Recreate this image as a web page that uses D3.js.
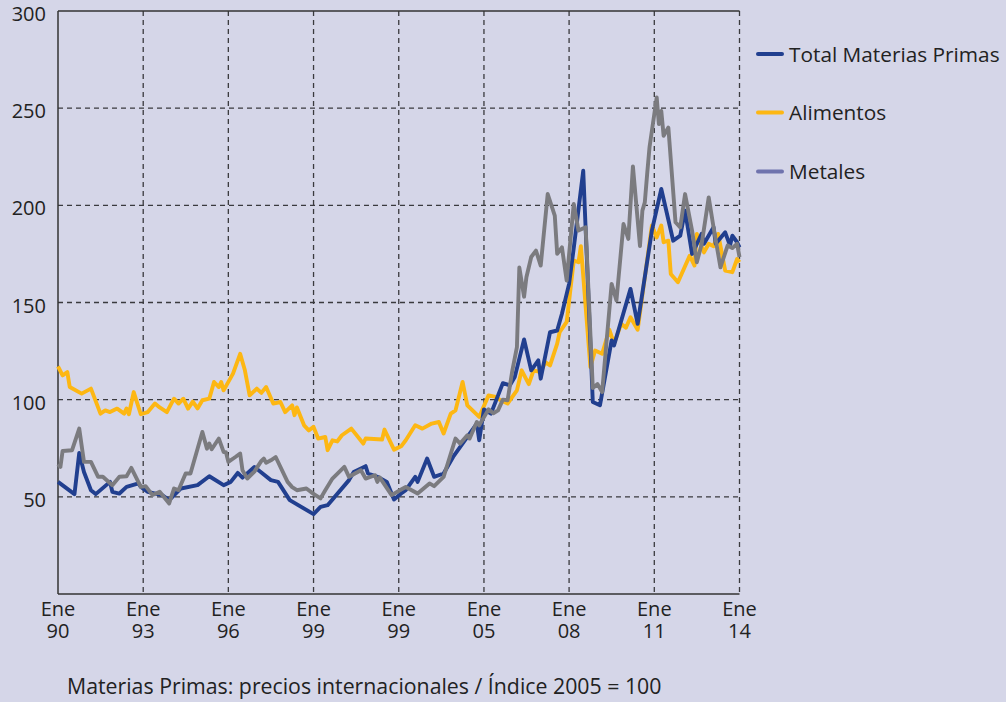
<!DOCTYPE html>
<html>
<head>
<meta charset="utf-8">
<script src="https://cdn.jsdelivr.net/npm/d3@7"></script>
<style>
  html, body { margin: 0; padding: 0; background: #d5d6e8; }
  svg { display: block; }
  text { font-family: "Open Sans", Lato, sans-serif; fill: #222; }
</style>
</head>
<body>
<svg id="chart" width="1006" height="702"></svg>
<script>
// ---- DATA (months since Ene 1990, index values 2005 = 100) ----
const totalMonths = [0,7,9,11,14,16,22,23,26,29,34,35,38,44,47,52,59,64,70,73,76,78,83,90,93,98,108,111,114,123,125,130,131,135,139,142,145,147,151,152,156,159,163,167,177,178,180,183,188,191,193,197,200,203,204,208,211,213,216,218,222,226,229,234,235,242,245,251,255,260,263,265,268,272,273,277,278,282,284,285,287,288];
const totalValues = [57.7,51.4,72.6,62.8,53.4,51.4,57.7,52.6,51.7,55.1,56.9,55.1,52.6,50.9,48.3,54.3,56,60.6,56,57.7,62.3,59.9,65.4,58.6,57.7,48.3,41.1,44.8,45.7,58.6,62.8,65.8,62,60.3,57.7,48.6,51.7,53.4,60.3,57.7,69.7,60.3,62,70.5,87.7,79.1,95,92.8,108.5,107.4,111.6,131,115.1,120.2,110.8,134.7,135.6,144.2,159.6,178,217.8,98.8,97.1,130.5,127.9,157,139,187,208.4,181.8,184.4,197.3,175,185.3,180.2,188.7,180.2,186.1,179.3,184.4,181,178.4];

const alimMonths = [0,2,4,5,10,14,18,20,22,25,28,29,30,32,35,38,41,43,46,49,51,53,55,57,59,61,64,66,68,69,70,74,77,79,81,84,86,88,91,94,96,99,100,101,104,106,108,110,113,114,116,118,120,124,129,130,137,138,142,145,147,151,154,158,161,163,166,168,171,173,178,182,185,187,190,194,196,199,201,204,206,208,211,212,215,218,220,221,225,227,230,233,235,238,240,242,245,251,253,255,256,258,259,262,267,269,270,273,275,277,279,282,285,287,288];
const alimValues = [117.1,112.5,114.2,106.5,103.1,105.7,92.8,94.5,93.6,95.4,92.8,95.5,92.5,103.9,92.5,93.6,98,96,93.6,100.5,98,100.5,95.4,99,95.5,99.7,100.5,109.1,106.5,109.1,104.8,113.4,123.6,115.1,102.2,105.7,103.5,106.5,98,98.8,93.6,97.1,92,96,86.8,84.2,86,80,80.8,74,79.1,78.5,81.7,85.1,77.4,80,79.5,84.6,74.3,76,79.1,86.8,85.1,87.7,88.5,82.6,92.8,94.5,109.1,97.1,91.1,102.2,101.4,99.7,98,104.8,115.1,108,115.1,114.2,119.3,117.6,128.8,134.7,140,171.6,170.7,179,116.8,125.3,123.6,136,128.8,139,137,142.4,136,189.6,183.5,189.6,181,181.8,164.7,160.4,174.1,169,185.3,175.8,180.2,179,185.3,166.4,165.6,172.4,170.7];

const metMonths = [0,1,2,6,9,11,14,17,19,23,26,29,31,35,37,40,43,47,49,51,54,56,61,63,64,65,68,70,71,72,75,77,78,80,83,86,87,88,90,92,97,99,101,105,108,111,113,116,121,123,128,130,134,135,136,141,145,147,152,157,159,163,168,170,173,174,177,178,182,184,186,188,190,192,194,195,197,198,200,202,204,207,210,211,213,215,218,220,223,226,228,230,234,236,239,241,243,246,247,248,249,250,253,254,255,256,258,261,263,265,268,270,272,275,277,280,283,285,287,288];
const metValues = [66.8,65.4,73.6,74,85.1,68,68,60.3,60.3,56,60.3,60.6,64.9,55.1,55.5,50.9,52.6,46.6,54.3,53.5,62,62,83.4,74.8,77.4,74.5,80,73.1,73,68,70.5,72.3,63.7,59.4,63,68.5,69.7,67.5,68.8,70.5,57.7,55,53.4,54.3,51.5,49.2,53.4,59.4,65.4,60.3,63.7,59.4,61.1,57.7,60,50.9,53.8,55.1,51.7,56.9,55.5,60.3,80,77.4,81.7,80,88.5,86.8,95,93,94.5,100,99.7,115,127,168,153,163,173.4,176.7,169,205.8,194.7,175,178.4,161.3,200.7,187,188.7,106,108,103.9,159.6,151,190.4,182.7,220,179,197.3,201.5,216,230,255.5,241.8,248.6,235.8,240,191.3,188.7,205.8,187,170.7,180,204.1,188.7,168.1,179.3,178,180.2,173.4];

const yTicks = [50, 100, 150, 200, 250, 300];
const xTickMonths = [0, 36, 72, 108, 144, 180, 216, 252, 288];
const xTickLabels = ["90", "93", "96", "99", "99", "05", "08", "11", "14"];
const seriesNames = ["Total Materias Primas", "Alimentos", "Metales"];
const lineColors = ["#213f8f", "#fdb713", "#7b7b7f"];
const legendColors = ["#213f8f", "#fdb713", "#6f73ad"];
const footnote = "Materias Primas: precios internacionales / Índice 2005 = 100";

// ---- CHART ----
const svg = d3.select("#chart");
const plotL = 58, plotR = 739.5, plotT = 11, plotB = 594;
const monthDate = m => new Date(1990, m, 1);

const x = d3.scaleTime().domain([monthDate(0), monthDate(288)]).range([plotL, plotR]);
const y = d3.scaleLinear().domain([0, 300]).range([plotB, plotT]);

const grid = svg.append("g");
grid.selectAll("line.h").data(yTicks.filter(v => v < 300)).join("line")
  .attr("x1", plotL).attr("x2", plotR)
  .attr("y1", d => y(d)).attr("y2", d => y(d))
  .attr("stroke", "#3a3a3e").attr("stroke-width", 1.3).attr("stroke-dasharray", "5,4");
grid.selectAll("line.v").data(xTickMonths.slice(1)).join("line")
  .attr("x1", d => x(monthDate(d))).attr("x2", d => x(monthDate(d)))
  .attr("y1", plotT).attr("y2", plotB)
  .attr("stroke", "#3a3a3e").attr("stroke-width", 1.3).attr("stroke-dasharray", "5,4");

// axes frame (left, bottom, top)
svg.append("line").attr("x1", plotL).attr("x2", plotL).attr("y1", plotT).attr("y2", plotB)
  .attr("stroke", "#333").attr("stroke-width", 1.5);
svg.append("line").attr("x1", plotL).attr("x2", plotR).attr("y1", plotB).attr("y2", plotB)
  .attr("stroke", "#333").attr("stroke-width", 1.5);
svg.append("line").attr("x1", plotL).attr("x2", plotR).attr("y1", plotT).attr("y2", plotT)
  .attr("stroke", "#333").attr("stroke-width", 1.5);

// y labels
svg.selectAll("text.yl").data(yTicks).join("text")
  .attr("x", 46).attr("y", d => y(d) + 10)
  .attr("text-anchor", "end").style("font-size", "20px")
  .text(d => d);

// x labels (two lines in one text)
const xl = svg.selectAll("text.xl").data(xTickMonths).join("text")
  .attr("text-anchor", "middle").style("font-size", "20px")
  .attr("transform", d => `translate(${x(monthDate(d))},0)`);
xl.append("tspan").attr("x", 0).attr("y", 616).text("Ene");
xl.append("tspan").attr("x", 0).attr("dy", 21.5).text((d, i) => xTickLabels[i]);

// lines
const series = [
  totalMonths.map((m, i) => ({ d: monthDate(m), v: totalValues[i] })),
  alimMonths.map((m, i) => ({ d: monthDate(m), v: alimValues[i] })),
  metMonths.map((m, i) => ({ d: monthDate(m), v: metValues[i] }))
];
const line = d3.line().x(p => x(p.d)).y(p => y(p.v));
const drawOrder = [1, 0, 2];
drawOrder.forEach(k => {
  svg.append("path").datum(series[k])
    .attr("fill", "none").attr("stroke", lineColors[k])
    .attr("stroke-width", 3.9).attr("stroke-linejoin", "round")
    .attr("d", line);
});

// legend
const legY = [54, 112.5, 171.5];
seriesNames.forEach((name, i) => {
  svg.append("line").attr("x1", 758).attr("x2", 782).attr("y1", legY[i]).attr("y2", legY[i])
    .attr("stroke", legendColors[i]).attr("stroke-width", 4).attr("stroke-linecap", "round");
  svg.append("text").attr("x", 789).attr("y", legY[i] + 7.5).style("font-size", "20.8px").text(name);
});

// footnote
svg.append("text").attr("x", 67).attr("y", 694).style("font-size", "21.3px").text(footnote);
</script>
</body>
</html>
